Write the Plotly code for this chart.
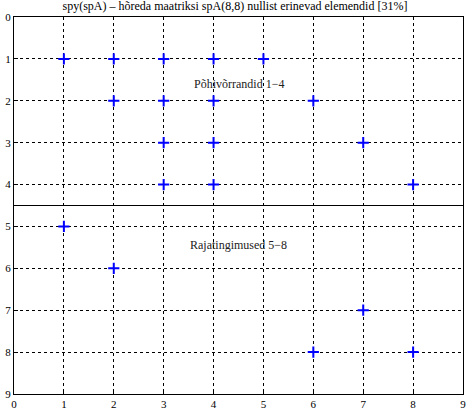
import plotly.graph_objects as go

rows = [1,1,1,1,1, 2,2,2,2, 3,3,3, 4,4,4, 5, 6, 7, 8,8]
cols = [1,2,3,4,5, 2,3,4,6, 3,4,7, 3,4,8, 1, 2, 7, 6,8]
ticks = list(range(10))
title = "spy(spA) – hõreda maatriksi spA(8,8) nullist erinevad elemendid [31%]"

fig = go.Figure()
fig.add_trace(go.Scatter(x=cols, y=rows, mode="markers",
    marker=dict(symbol="cross-thin", size=8, line=dict(color="#0000ff", width=2)),
    showlegend=False))
fig.add_shape(type="line", xref="paper", x0=0, x1=1, y0=4.5, y1=4.5,
              line=dict(color="black", width=1))
fig.add_annotation(x=4.5, y=1.6, text="Põhivõrrandid 1−4", showarrow=False,
                   font=dict(family="Liberation Serif", size=12, color="#222"))
fig.add_annotation(x=4.5, y=5.45, text="Rajatingimused 5−8", showarrow=False,
                   font=dict(family="Liberation Serif", size=12, color="#222"))
axis = dict(range=[0, 9], tickvals=ticks, showgrid=True, gridcolor="black",
            griddash="3px,3px", gridwidth=1, zeroline=False, showline=True,
            linecolor="black", mirror=True, ticks="inside", ticklen=4, automargin=False,
            tickcolor="black", tickfont=dict(family="Liberation Serif", size=11, color="black"))
fig.update_xaxes(**axis)
fig.update_yaxes(**{**axis, "range": [9, 0]})
fig.update_layout(width=470, height=411, plot_bgcolor="white", paper_bgcolor="white",
    margin=dict(l=14, r=7, t=17, b=17, autoexpand=False),
    title=dict(text=title, x=0.5, xanchor="center", y=0.997, yanchor="top",
               font=dict(family="Liberation Serif", size=12, color="black")))
fig.write_html("out.html", config={"displayModeBar": False},
               post_script="document.body.style.margin='0';")
